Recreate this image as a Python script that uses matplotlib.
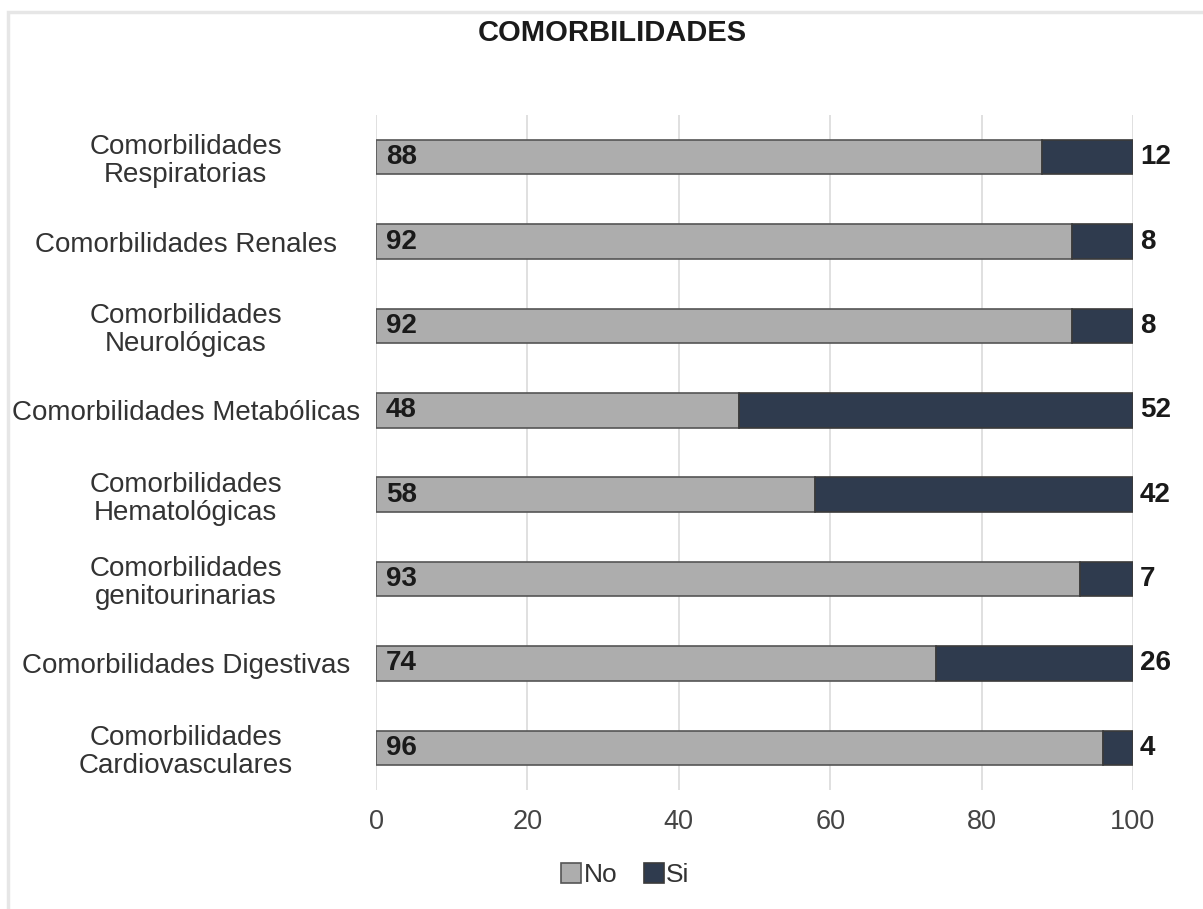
import matplotlib.pyplot as plt
from matplotlib.patches import Rectangle

plt.rcParams["font.family"] = ["Liberation Sans", "DejaVu Sans"]

categories = [
    "Comorbilidades\nRespiratorias",
    "Comorbilidades Renales",
    "Comorbilidades\nNeurológicas",
    "Comorbilidades Metabólicas",
    "Comorbilidades\nHematológicas",
    "Comorbilidades\ngenitourinarias",
    "Comorbilidades Digestivas",
    "Comorbilidades\nCardiovasculares",
]
no_vals = [88, 92, 92, 48, 58, 93, 74, 96]
si_vals = [12, 8, 8, 52, 42, 7, 26, 4]
x_ticks = [0, 20, 40, 60, 80, 100]

COLOR_NO = "#ADADAD"
COLOR_SI = "#2F3B4E"

fig = plt.figure(figsize=(12.03, 9.09), dpi=100)
ax = fig.add_axes([0.3126, 0.1309, 0.6292, 0.7426])

# thin frame around the chart area
fig.patches.append(Rectangle((8 / 1203, -0.1), 1.2, 1 - 12 / 909 + 0.1,
                             transform=fig.transFigure, fill=False,
                             edgecolor="#E6E6E6", linewidth=2.5, zorder=0))

y = list(range(len(categories)))
ax.barh(y, no_vals, height=0.41, color=COLOR_NO, edgecolor="#555555",
        linewidth=1.2, label="No", zorder=3)
ax.barh(y, si_vals, left=no_vals, height=0.41, color=COLOR_SI,
        edgecolor="#3A3A3A", linewidth=1.2, label="Si", zorder=3)

for yi, n, s in zip(y, no_vals, si_vals):
    ax.text(1.3, yi, str(n), ha="left", va="center", fontsize=20,
            fontweight="bold", color="#1A1A1A", zorder=4)
    ax.text(n + s + 0.9, yi, str(s), ha="left", va="center", fontsize=20,
            fontweight="bold", color="#1A1A1A", zorder=4)

ax.set_xlim(0, 100)
ax.set_ylim(len(categories) - 0.5, -0.5)
ax.set_xticks(x_ticks)
ax.set_yticks(y)
# category names are centred in the space left of the bars
ax.set_yticklabels(categories, fontsize=20, color="#333333", ha="center",
                   multialignment="center", linespacing=1.1)
ax.tick_params(axis="x", labelsize=19.5, labelcolor="#444444", length=0, pad=14)
ax.tick_params(axis="y", length=0, pad=137)
ax.grid(axis="x", color="#DADADA", linewidth=1.2, zorder=0)
for sp in ax.spines.values():
    sp.set_visible(False)

fig.text(0.509, 0.964, "COMORBILIDADES", ha="center", va="center",
         fontsize=21, fontweight="bold", color="#1A1A1A")

fig.legend(loc="center", bbox_to_anchor=(0.52, 0.037), ncol=2, frameon=False,
           fontsize=19, handlelength=0.75, handleheight=0.75, handletextpad=0.1,
           columnspacing=1.0, labelcolor="#333333")

fig.savefig("out.png", dpi=100)
